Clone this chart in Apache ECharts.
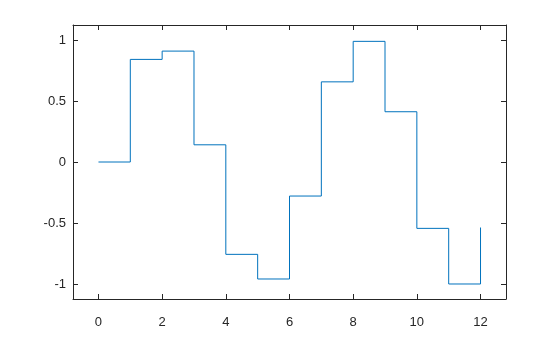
<!DOCTYPE html>
<html>
<head>
<meta charset="utf-8">
<script src="https://cdn.jsdelivr.net/npm/echarts@6/dist/echarts.min.js"></script>
<style>html,body{margin:0;padding:0;background:#fff;}#c{width:560px;height:337px;}</style>
</head>
<body>
<div id="c"></div>
<script>
const xValues = [0, 1, 2, 3, 4, 5, 6, 7, 8, 9, 10, 11, 12];
const yValues = [0, 0.841, 0.909, 0.141, -0.757, -0.959, -0.279, 0.657, 0.989, 0.412, -0.544, -1.0, -0.537];
const xTicks = [0, 2, 4, 6, 8, 10, 12];
const yTicks = [-1, -0.5, 0, 0.5, 1];

const axisColor = '#262626';
const font = { fontFamily: 'Liberation Sans, Arial, sans-serif', fontSize: 13, color: axisColor };

const chart = echarts.init(document.getElementById('c'), null, { renderer: 'canvas' });
const lineStyle = { color: axisColor, width: 1 };
const tickIn = (vals) => ({ show: true, inside: true, length: 5, lineStyle: lineStyle, customValues: vals });

chart.setOption({
  animation: false,
  backgroundColor: '#fff',
  grid: { left: 73, right: 54, top: 25, bottom: 38, containLabel: false },
  xAxis: [
    {
      type: 'value', min: -0.8, max: 12.8, position: 'bottom',
      axisLine: { show: true, onZero: false, lineStyle: lineStyle },
      axisTick: tickIn(xTicks),
      axisLabel: Object.assign({ margin: 17, customValues: xTicks }, font),
      splitLine: { show: false }
    },
    {
      type: 'value', min: -0.8, max: 12.8, position: 'top',
      axisLine: { show: true, onZero: false, lineStyle: lineStyle },
      axisTick: tickIn(xTicks),
      axisLabel: { show: false },
      splitLine: { show: false }
    }
  ],
  yAxis: [
    {
      type: 'value', min: -1.123, max: 1.123, position: 'left',
      axisLine: { show: true, onZero: false, lineStyle: lineStyle },
      axisTick: tickIn(yTicks),
      axisLabel: Object.assign({ margin: 7, customValues: yTicks }, font),
      splitLine: { show: false }
    },
    {
      type: 'value', min: -1.123, max: 1.123, position: 'right',
      axisLine: { show: true, onZero: false, lineStyle: lineStyle },
      axisTick: tickIn(yTicks),
      axisLabel: { show: false },
      splitLine: { show: false }
    }
  ],
  series: [{
    type: 'line',
    step: 'end',
    data: xValues.map((x, i) => [x, yValues[i]]),
    showSymbol: false,
    symbol: 'none',
    lineStyle: { color: '#0072BD', width: 1 },
    xAxisIndex: 0, yAxisIndex: 0
  }]
});
</script>
</body>
</html>
